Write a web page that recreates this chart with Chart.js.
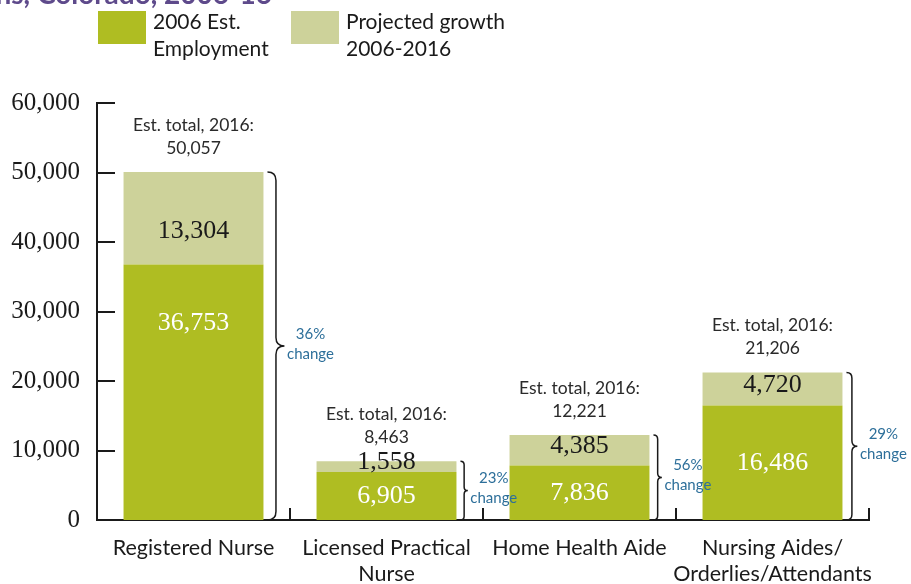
<!DOCTYPE html>
<html>
<head>
<meta charset="utf-8">
<script src="https://cdn.jsdelivr.net/npm/chart.js@4.4.0/dist/chart.umd.min.js"></script>
<style>
  body { margin: 0; background: #fff; }
  canvas { display: block; }
</style>
</head>
<body>
<canvas id="myChart" width="911" height="584"></canvas>
<script>
'use strict';

// data
let categories = [
  ['Registered Nurse'],
  ['Licensed Practical', 'Nurse'],
  ['Home Health Aide'],
  ['Nursing Aides/', 'Orderlies/Attendants']
];
let employment2006 = [36753, 6905, 7836, 16486];
let projectedGrowth = [13304, 1558, 4385, 4720];
let total2016 = [50057, 8463, 12221, 21206];
let percentChange = [36, 23, 56, 29];
let yTicks = [0, 10000, 20000, 30000, 40000, 50000, 60000];

let sansFont = 'Lato';
let serifFont = 'Liberation Serif';
let baseColor = '#afbd22';
let growthColor = '#cdd29a';
let changeColor = '#2d6f9a';
let inkColor = '#1a1a1a';

function fmt(n) {
  return n.toLocaleString('en-US');
}

function drawBrace(ctx, x, top, bottom, w) {
  let mid = (top + bottom) / 2;
  let r = Math.min(w / 2, (bottom - top) / 6);
  let xm = x + w / 2;
  ctx.beginPath();
  ctx.moveTo(x, top);
  ctx.quadraticCurveTo(xm, top, xm, top + r);
  ctx.lineTo(xm, mid - r);
  ctx.quadraticCurveTo(xm, mid, x + w, mid);
  ctx.quadraticCurveTo(xm, mid, xm, mid + r);
  ctx.lineTo(xm, bottom - r);
  ctx.quadraticCurveTo(xm, bottom, x, bottom);
  ctx.stroke();
}

let extrasPlugin = {
  id: 'extras',
  afterDraw(chart) {
    let ctx = chart.ctx;
    let xScale = chart.scales.x;
    let yScale = chart.scales.y;
    let area = chart.chartArea;
    let baseBars = chart.getDatasetMeta(0).data;
    let growthBars = chart.getDatasetMeta(1).data;

    ctx.save();

    // cut-off title at the very top
    ctx.fillStyle = '#5e4a8b';
    ctx.font = 'bold 28px ' + sansFont;
    ctx.textAlign = 'right';
    ctx.textBaseline = 'alphabetic';
    ctx.fillText('Occupations, Colorado, 2006-16', 272, 4);

    // legend
    ctx.textAlign = 'left';
    ctx.textBaseline = 'middle';
    ctx.font = '21px ' + sansFont;
    ctx.fillStyle = baseColor;
    ctx.fillRect(98, 11, 48, 33);
    ctx.fillStyle = growthColor;
    ctx.fillRect(291, 11, 48, 33);
    ctx.fillStyle = inkColor;
    ctx.fillText('2006 Est.', 153, 22);
    ctx.fillText('Employment', 153, 49);
    ctx.fillText('Projected growth', 346, 22);
    ctx.fillText('2006-2016', 346, 49);

    // inward tick marks
    ctx.strokeStyle = inkColor;
    ctx.lineWidth = 2;
    yTicks.forEach(function (v) {
      let y = Math.round(yScale.getPixelForValue(v));
      ctx.beginPath();
      ctx.moveTo(area.left, y);
      ctx.lineTo(area.left + 18, y);
      ctx.stroke();
    });
    for (let i = 1; i <= categories.length; i++) {
      let x = Math.round(xScale.getPixelForValue(i - 0.5));
      ctx.beginPath();
      ctx.moveTo(x, area.bottom);
      ctx.lineTo(x, area.bottom - 12);
      ctx.stroke();
    }

    ctx.textAlign = 'center';
    for (let i = 0; i < categories.length; i++) {
      let b = baseBars[i];
      let g = growthBars[i];
      let cx = b.x;

      // value inside base segment
      let bMid = (b.y + b.base) / 2;
      ctx.font = '26px ' + serifFont;
      ctx.fillStyle = '#fff';
      ctx.fillText(fmt(employment2006[i]), cx, Math.min(bMid, b.y + 59));

      // value inside growth segment
      let gMid = (g.y + g.base) / 2;
      ctx.fillStyle = inkColor;
      ctx.fillText(fmt(projectedGrowth[i]), cx, Math.max(gMid - 4, g.base - 33));

      // estimated total above bar
      ctx.font = '17.5px ' + sansFont;
      ctx.fillStyle = '#2a2a2a';
      ctx.fillText('Est. total, 2016:', cx, g.y - 47);
      ctx.fillText(fmt(total2016[i]), cx, g.y - 24);

      // brace with percent change
      let top = g.y;
      let bottom = b.base;
      let w = Math.min(17, 5 + (bottom - top) * 0.04);
      let bx = cx + b.width / 2 + 4;
      ctx.strokeStyle = inkColor;
      ctx.lineWidth = 1.5;
      drawBrace(ctx, bx, top, bottom, w);
      let mid = (top + bottom) / 2;
      ctx.font = '15px ' + sansFont;
      ctx.fillStyle = changeColor;
      ctx.fillText(percentChange[i] + '%', bx + w + 26, mid - 12);
      ctx.fillText('change', bx + w + 26, mid + 8);
    }

    ctx.restore();
  }
};

const data = {
  labels: categories,
  datasets: [
    {
      label: '2006 Est. Employment',
      data: employment2006,
      backgroundColor: baseColor,
      borderWidth: 0
    },
    {
      label: 'Projected growth 2006-2016',
      data: projectedGrowth,
      backgroundColor: growthColor,
      borderWidth: 0
    }
  ]
};

const config = {
  type: 'bar',
  data: data,
  options: {
    responsive: false,
    animation: false,
    categoryPercentage: 1,
    barPercentage: 0.725,
    layout: {
      padding: { top: 103, right: 42, left: 0, bottom: 0 }
    },
    plugins: {
      legend: { display: false },
      tooltip: { enabled: false }
    },
    scales: {
      x: {
        stacked: true,
        grid: { display: false },
        border: { display: true, color: inkColor, width: 2 },
        ticks: {
          color: inkColor,
          font: { family: sansFont, size: 21.5, lineHeight: 1.2 },
          padding: 7,
          maxRotation: 0,
          autoSkip: false
        },
        afterFit: function (scale) { scale.height = 64; }
      },
      y: {
        stacked: true,
        min: 0,
        max: 60000,
        grid: { display: false },
        border: { display: true, color: inkColor, width: 2 },
        ticks: {
          stepSize: 10000,
          color: inkColor,
          font: { family: serifFont, size: 25 },
          padding: 9,
          callback: function (v) { return fmt(v); }
        },
        afterFit: function (scale) { scale.width = 97; }
      }
    }
  },
  plugins: [extrasPlugin]
};

const myChart = new Chart(document.getElementById('myChart'), config);
</script>
</body>
</html>
